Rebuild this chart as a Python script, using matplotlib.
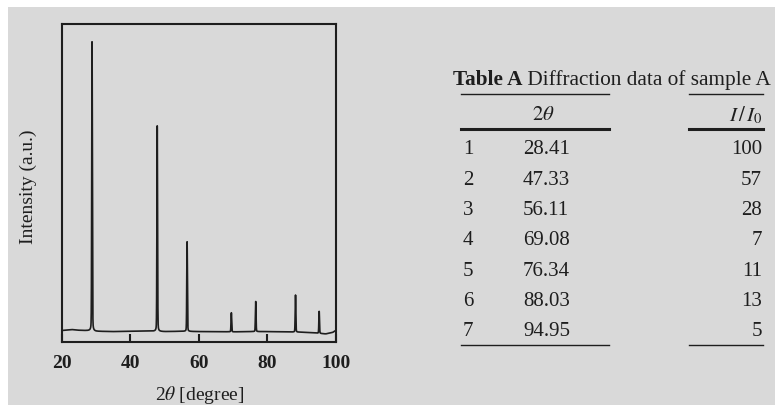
import numpy as np
import matplotlib
matplotlib.use("Agg")
import matplotlib.pyplot as plt
from matplotlib.lines import Line2D
from matplotlib.patches import Rectangle

plt.rcParams['font.family'] = ['Liberation Serif', 'DejaVu Serif']
plt.rcParams['mathtext.fontset'] = 'stix'

W, H = 775, 406
INK = '#1e1e1e'
BG = '#d9d9d9'

# peaks as drawn in the pattern (position, relative height)
peak_pos = [28.9, 47.9, 56.6, 69.5, 76.6, 88.2, 95.1]
peak_height = [100, 71, 31, 6.6, 10.4, 12.8, 7.6]

# background trace
base_x = [20.3, 21.5, 23.0, 24.5, 26.0, 28.0, 30.0, 35.0, 40.0, 45.0, 50.0, 55.0,
          60.0, 65.0, 70.0, 75.0, 80.0, 85.0, 90.0, 93.0, 97.0, 99.0, 99.8]
base_y = [0.3, 0.4, 0.6, 0.4, 0.3, 0.2, 0.0, -0.1, 0.0, 0.1, -0.1, 0.0,
          -0.1, -0.1, -0.2, -0.1, -0.1, -0.2, -0.3, -0.5, -0.9, -0.4, 0.2]

# table A
row_id = ['1', '2', '3', '4', '5', '6', '7']
two_theta = ['28.41', '47.33', '56.11', '69.08', '76.34', '88.03', '94.95']
rel_int = ['100', '57', '28', '7', '11', '13', '5']


def px(x, y):
    return x / W, 1 - y / H


fig = plt.figure(figsize=(W / 100, H / 100), dpi=100, facecolor='white')
fig.add_artist(Rectangle(px(8, H), (W - 8) / W, (H - 8) / H, transform=fig.transFigure,
                         facecolor=BG, edgecolor='none', zorder=-10))

# --- diffraction pattern ---
ax_l, ax_r, ax_t, ax_b = 61.5, 336, 25, 343
ax = fig.add_axes([ax_l / W, 1 - ax_b / H, (ax_r - ax_l) / W, (ax_b - ax_t) / H])
ax.patch.set_alpha(0)

x = np.linspace(base_x[0], base_x[-1], 8000)
y = np.interp(x, base_x, base_y)
for p, h in zip(peak_pos, peak_height):
    # mostly gaussian core with a small lorentzian foot
    y = y + h * (0.85 * np.exp(-0.5 * ((x - p) / 0.09) ** 2)
                 + 0.15 * 0.12**2 / ((x - p) ** 2 + 0.12**2))
ax.plot(x, y, color=INK, lw=1.2)

ax.set_xlim(20, 100)
ax.set_ylim(-3.7, 106.2)
ax.set_xticks([20, 40, 60, 80, 100])
ax.set_yticks([])
ax.tick_params(axis='x', direction='in', length=6, width=1.5, color=INK,
               labelsize=14, labelcolor=INK, pad=9)
for lab in ax.get_xticklabels():
    lab.set_fontweight('bold')
for s in ax.spines.values():
    s.set_linewidth(1.5)
    s.set_color(INK)

fig.text(*px(200, 395), r'2$\theta$ [degree]', ha='center', va='center',
         fontsize=14, color=INK)
fig.text(*px(28, 187), 'Intensity (a.u.)', ha='center', va='center',
         rotation=90, fontsize=14, color=INK)

# --- table ---
t1 = fig.text(*px(453, 85), 'Table A', ha='left', va='baseline', fontsize=15.3,
              fontweight='bold', color=INK)
ax.annotate(' Diffraction data of sample A', xy=(1, 0), xycoords=t1,
            ha='left', va='bottom', fontsize=15.3, color=INK, annotation_clip=False)


def hrule(x0, x1, yy, lw):
    fig.add_artist(Line2D([x0 / W, x1 / W], [1 - yy / H, 1 - yy / H],
                          transform=fig.transFigure, color=INK, lw=lw))


for yy, lw in [(95, 1.0), (130, 2.2), (346, 1.0)]:
    hrule(461, 609, yy, lw)
    hrule(689, 763, yy, lw)

fig.text(*px(543, 115), r'$2\theta$', ha='center', va='center', fontsize=15, color=INK)
fig.text(*px(763, 115), r'$I\,/\,I_0$', ha='right', va='center', fontsize=15, color=INK)

for i, (r, t, v) in enumerate(zip(row_id, two_theta, rel_int)):
    yy = 150 + 30.3 * i
    fig.text(*px(463, yy), r, ha='left', va='center', fontsize=15, color=INK)
    fig.text(*px(523, yy), t, ha='left', va='center', fontsize=15, color=INK)
    fig.text(*px(762, yy), v, ha='right', va='center', fontsize=15, color=INK)

fig.savefig('out.png', dpi=100, facecolor='white')
